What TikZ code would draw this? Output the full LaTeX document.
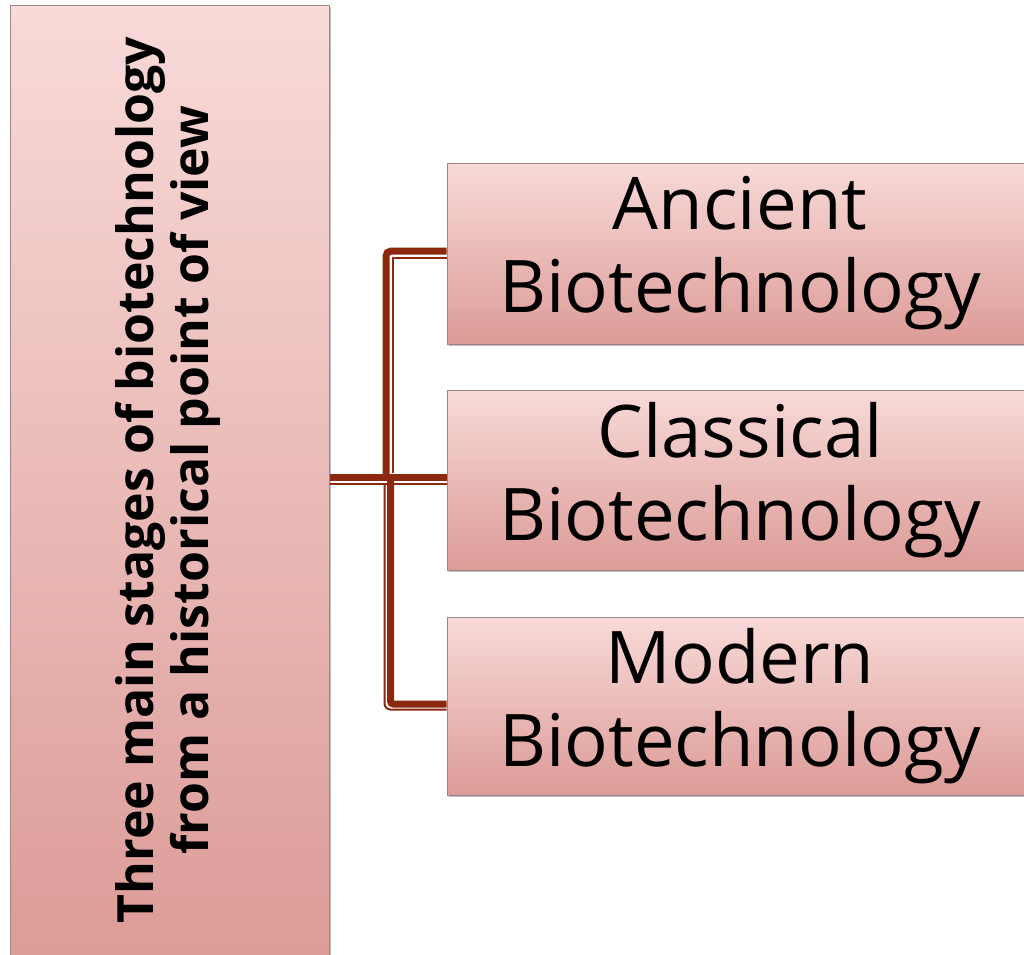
\documentclass[tikz,border=0pt]{standalone}
\usepackage{fontspec}
\setmainfont{Open Sans}
\usetikzlibrary{shadows,calc}
\definecolor{conn}{RGB}{140,40,14}
\definecolor{boxtop}{RGB}{248,218,216}
\definecolor{boxbot}{RGB}{220,155,151}
\definecolor{edgegray}{RGB}{155,135,135}
\tikzset{
  basebox/.style={draw=edgegray, line width=1pt, top color=boxtop, bottom color=boxbot,
    inner sep=0pt, drop shadow={shadow xshift=2pt, shadow yshift=-2pt, opacity=0.25, fill=black}},
  stagebox/.style={basebox, minimum width=586pt, align=center, text=black,
    font=\fontsize{72.6}{83}\selectfont},
  roottext/.style={rotate=90, align=center, text=black, inner sep=0pt,
    font=\bfseries\fontsize{50}{55}\selectfont},
  thk/.style={draw=conn, line width=7pt},
  thn/.style={draw=conn, line width=2pt},
}
\begin{document}
\begin{tikzpicture}[x=1pt,y=-1pt]
\useasboundingbox (0,0) rectangle (1024,954);
\clip (0,0) rectangle (1024,954);
\fill[white] (0,0) rectangle (1024,954);
% boxes
\node[basebox, minimum width=319pt, minimum height=960pt] (root) at (169.5,485) {};
\node[roottext] (rt) at (168,480) {Three main stages of biotechnology\\from a historical point of view};
\node[stagebox, minimum height=181pt] (a) at (740,253.5) {Ancient\\Biotechnology};
\node[stagebox, minimum height=180pt] (b) at (740,480) {Classical\\Biotechnology};
\node[stagebox, minimum height=178pt] (c) at (740,706) {Modern\\Biotechnology};
% connectors: thin companion lines
\draw[thn] (root.east |- 0,484) -- (b.west |- 0,484);
\draw[thn] (392.5,473) -- (392.5,257.5) -- (a.west |- 0,257.5);
\draw[thn, rounded corners=6pt] (384.5,484) -- (384.5,709.5) -- (c.west |- 0,709.5);
% connectors: thick lines
\draw[thk] (root.east |- 0,477) -- (b.west |- 0,477);
\draw[thk, rounded corners=5pt] (386,480) -- (386,251) -- (a.west |- 0,251);
\draw[thk, rounded corners=3pt] (390.5,474) -- (390.5,704) -- (c.west |- 0,704);
\end{tikzpicture}
\end{document}
